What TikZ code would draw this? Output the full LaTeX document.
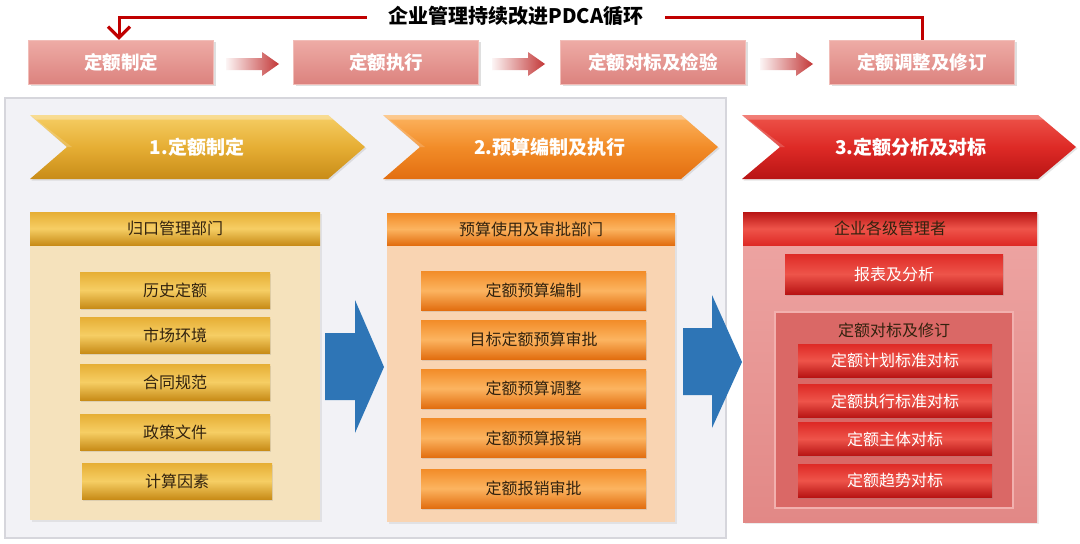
\documentclass[tikz,border=0pt]{standalone}
\usepackage{fontspec}
\setmainfont{Noto Sans CJK SC}
\usetikzlibrary{shadows,arrows.meta}
\definecolor{pdcared}{RGB}{192,0,0}
\definecolor{panelgray}{RGB}{242,242,246}
\definecolor{panelline}{RGB}{214,214,220}
\definecolor{tbtop}{RGB}{238,172,166}
\definecolor{tbbot}{RGB}{220,130,126}
\definecolor{goldA}{RGB}{246,206,100}
\definecolor{goldB}{RGB}{230,174,52}
\definecolor{goldC}{RGB}{200,140,24}
\definecolor{orgA}{RGB}{252,180,96}
\definecolor{orgB}{RGB}{242,140,40}
\definecolor{orgC}{RGB}{226,110,16}
\definecolor{redA}{RGB}{238,84,74}
\definecolor{redB}{RGB}{222,42,38}
\definecolor{redC}{RGB}{184,20,20}
\definecolor{col1bg}{RGB}{245,226,188}
\definecolor{col2bg}{RGB}{249,212,178}
\definecolor{col3bgA}{RGB}{238,166,164}
\definecolor{col3bgB}{RGB}{226,136,134}
\definecolor{col3in}{RGB}{218,104,102}
\definecolor{col3inline}{RGB}{242,176,174}
\definecolor{bluearr}{RGB}{46,117,182}
\definecolor{darktext}{RGB}{50,34,14}
\newcommand\fnttitle{\fontsize{20}{23}\selectfont\bfseries}
\newcommand\fnttop{\fontsize{18.5}{21}\selectfont\bfseries}
\newcommand\fntchev{\fontsize{19}{22}\selectfont\bfseries}
\newcommand\fntbody{\fontsize{16}{19}\selectfont}
\tikzset{
  topbox/.style={minimum width=185, minimum height=44, inner sep=0, text=white, font=\fnttop,
     top color=tbtop, bottom color=tbbot, draw=tbtop!80!white, line width=0.4,
     drop shadow={opacity=0.25, shadow xshift=2pt, shadow yshift=-2pt}},
  chevtext/.style={text=white, font=\fntchev},
  hdrgold/.style={minimum width=290, minimum height=33, inner sep=0, text=darktext, font=\fntbody,
     top color=goldB, bottom color=goldC, middle color=goldA},
  hdrorg/.style={minimum width=288, minimum height=32, inner sep=0, text=darktext, font=\fntbody,
     top color=orgB, bottom color=orgC, middle color=orgA},
  hdrred/.style={minimum width=294, minimum height=33, inner sep=0, text=darktext, font=\fntbody,
     top color=redC, bottom color=redB, middle color=redA},
  itemgold/.style={minimum width=190, minimum height=36, inner sep=0, text=darktext, font=\fntbody,
     top color=goldB, bottom color=goldC, middle color=goldA,
     drop shadow={opacity=0.2, shadow xshift=1pt, shadow yshift=-1.5pt}},
  itemorg/.style={minimum width=225, minimum height=39, inner sep=0, text=darktext, font=\fntbody,
     top color=orgB, bottom color=orgC, middle color=orgA,
     drop shadow={opacity=0.2, shadow xshift=1pt, shadow yshift=-1.5pt}},
  itemred/.style={minimum width=194, minimum height=33, inner sep=0, text=white, font=\fntbody,
     top color=redB, bottom color=redC, middle color=redA,
     drop shadow={opacity=0.2, shadow xshift=1pt, shadow yshift=-1.5pt}},
  smallarr/.style={left color=white!92!tbbot, right color=redC!85!white},
  bluearrow/.style={fill=bluearr},
  pdcaline/.style={draw=pdcared, line width=3pt, -{Straight Barb[length=11pt,width=22pt,line width=3.2pt]}},
}
\begin{document}
\begin{tikzpicture}[x=1pt,y=-1pt]
\useasboundingbox (0,0) rectangle (1080,544);
\fill[white] (0,0) rectangle (1080,544);

% top process boxes
\node[topbox] (b1) at (121,62) {定额制定};
\node[topbox] (b2) at (386,62) {定额执行};
\node[topbox] (b3) at (653,62) {定额对标及检验};
\node[topbox] (b4) at (922,62) {定额调整及修订};

% small arrows between top boxes
\shade[smallarr] (226,58) -- (262,58) -- (262,52) -- (279,64) -- (262,76) -- (262,70) -- (226,70) -- cycle;
\shade[smallarr] (492,58) -- (528,58) -- (528,52) -- (545,64) -- (528,76) -- (528,70) -- (492,70) -- cycle;
\shade[smallarr] (760,58) -- (796,58) -- (796,52) -- (813,64) -- (796,76) -- (796,70) -- (760,70) -- cycle;

% PDCA loop
\draw[pdcaline] (b4.north) -- ++(0,-22) -| ([xshift=-2pt]b1.north);
\node[fill=white, inner xsep=22pt, inner ysep=2pt, font=\fnttitle, text=black] (title) at (516,16) {企业管理持续改进PDCA循环};

% gray background panel
\draw[fill=panelgray, draw=panelline, line width=1.2] (5,98) rectangle (726,538);

% chevrons
\shade[top color=goldA, bottom color=goldC, middle color=goldB,
  drop shadow={opacity=0.2, shadow xshift=1.5pt, shadow yshift=-1.5pt}]
  (30,115) -- (328,115) -- (365,147) -- (328,179) -- (30,179) -- (67,147) -- cycle;
\fill[white, opacity=0.3] (30,115) -- (328,115) -- (333,119.5) -- (36,119.5) -- cycle;
\fill[white, opacity=0.18] (30,115) -- (36,119.5) -- (72,147) -- (67,147) -- cycle;
\node[chevtext] (c1) at (197,147) {1.定额制定};

\shade[top color=orgA, bottom color=orgC, middle color=orgB,
  drop shadow={opacity=0.2, shadow xshift=1.5pt, shadow yshift=-1.5pt}]
  (383,115) -- (681,115) -- (718,147) -- (681,179) -- (383,179) -- (420,147) -- cycle;
\fill[white, opacity=0.3] (383,115) -- (681,115) -- (686,119.5) -- (389,119.5) -- cycle;
\fill[white, opacity=0.18] (383,115) -- (389,119.5) -- (425,147) -- (420,147) -- cycle;
\node[chevtext] (c2) at (550,147) {2.预算编制及执行};

\shade[top color=redA, bottom color=redC, middle color=redB,
  drop shadow={opacity=0.2, shadow xshift=1.5pt, shadow yshift=-1.5pt}]
  (742,115) -- (1038,115) -- (1076,147) -- (1038,179) -- (742,179) -- (780,147) -- cycle;
\fill[white, opacity=0.25] (742,115) -- (1038,115) -- (1043,119.5) -- (748,119.5) -- cycle;
\fill[white, opacity=0.18] (742,115) -- (748,119.5) -- (785,147) -- (780,147) -- cycle;
\node[chevtext] (c3) at (911,147) {3.定额分析及对标};

% column 1
\fill[col1bg, drop shadow={opacity=0.15, shadow xshift=1.5pt, shadow yshift=-1.5pt}] (30,212) rectangle (320,520);
\node[hdrgold] (h1) at (175,228.5) {归口管理部门};
\node[itemgold] (i11) at (175,290) {历史定额};
\node[itemgold] (i12) at (175,335) {市场环境};
\node[itemgold] (i13) at (175,382) {合同规范};
\node[itemgold] (i14) at (175,432) {政策文件};
\node[itemgold] (i15) at (177,481) {计算因素};

% column 2
\fill[col2bg, drop shadow={opacity=0.15, shadow xshift=1.5pt, shadow yshift=-1.5pt}] (387,213) rectangle (675,522);
\node[hdrorg] (h2) at (531,229) {预算使用及审批部门};
\node[itemorg] (i21) at (533.5,290.5) {定额预算编制};
\node[itemorg] (i22) at (533.5,339.5) {目标定额预算审批};
\node[itemorg] (i23) at (533.5,388.5) {定额预算调整};
\node[itemorg] (i24) at (533.5,438) {定额预算报销};
\node[itemorg] (i25) at (533.5,488.5) {定额报销审批};

% column 3
\shade[top color=col3bgA, bottom color=col3bgB, drop shadow={opacity=0.15, shadow xshift=1.5pt, shadow yshift=-1.5pt}] (743,212) rectangle (1037,522);
\node[hdrred] (h3) at (890,228.5) {企业各级管理者};
\node[itemred, minimum width=218, minimum height=40] (r0) at (894,274) {报表及分析};
\draw[fill=col3in, draw=col3inline, line width=1.2] (775,312) rectangle (1013,508);
\node[text=darktext, font=\fntbody] (r1t) at (894,330) {定额对标及修订};
\node[itemred] (r1) at (895,360.5) {定额计划标准对标};
\node[itemred] (r2) at (895,401) {定额执行标准对标};
\node[itemred] (r3) at (895,439) {定额主体对标};
\node[itemred] (r4) at (895,480.5) {定额趋势对标};

% blue arrows between columns
\fill[bluearrow] (325,333) -- (355,333) -- (355,300) -- (384,367) -- (355,433) -- (355,400) -- (325,400) -- cycle;
\fill[bluearrow] (683,328) -- (712,328) -- (712,295) -- (742,362) -- (712,428) -- (712,395) -- (683,395) -- cycle;
\end{tikzpicture}
\end{document}
